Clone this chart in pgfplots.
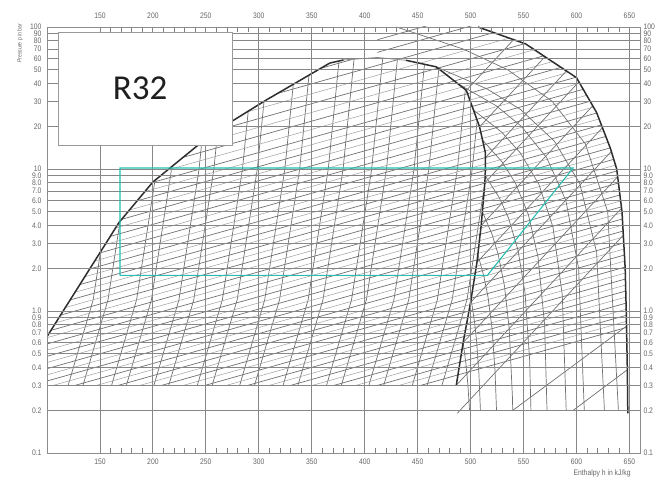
\documentclass[border=0pt]{standalone}
\usepackage{fontspec}
\usepackage{pgfplots}
\pgfplotsset{compat=1.18}
\newfontfamily\tk[FakeStretch=0.85]{Liberation Sans}
\newfontfamily\calfont{Carlito}
\definecolor{cyc}{RGB}{38,191,178}
\tikzset{
  ln/.style={black!56, line width=0.7pt},
  lt/.style={black!38, line width=0.5pt},
  thk/.style={black!82, line width=1.5pt},
  msk/.style={fill=white, draw=none},
}
\begin{document}
\begin{tikzpicture}
\begin{axis}[scale only axis, width=593pt, height=426pt, xmin=100, xmax=660,
  ymode=log, ymin=0.1, ymax=100, axis on top,
  xtick={150,200,250,300,350,400,450,500,550,600,650},
  xticklabels={150,200,250,300,350,400,450,500,550,600,650},
  minor x tick num=4,
  xmajorgrids, ymajorgrids,
  ytick={0.1,0.2,0.3,0.4,0.5,0.6,0.7,0.8,0.9,1,2,3,4,5,6,7,8,9,10,20,30,40,50,60,70,80,90,100},
  yticklabels={0.1,0.2,0.3,0.4,0.5,0.6,0.7,0.8,0.9,1.0,2.0,3.0,4.0,5.0,6.0,7.0,8.0,9.0,10,20,30,40,50,60,70,80,90,100},
  minor y tick num=0,
  ytick style={draw=none},
  major x tick style={draw=none},
  minor x tick style={black!50, line width=0.6pt},
  minor tick length=5pt,
  major grid style={black!47, line width=0.8pt},
  axis line style={black!45, line width=0.7pt},
  tick label style={font=\tk\fontsize{8}{9}\selectfont, text=black!60},
  yticklabel style={xshift=-2pt},
  xticklabel style={yshift=-2pt},
]
% --- two-phase steep lines
\addplot[ln] coordinates {(120,.3) (143.6,1.2) (162.6,10) (173,60)};
\addplot[ln] coordinates {(134,.3) (157.6,1.2) (176.6,10) (187,60)};
\addplot[ln] coordinates {(161,.3) (184.6,1.2) (203.6,10) (214,60)};
\addplot[ln] coordinates {(175,.3) (198.6,1.2) (217.6,10) (228,60)};
\addplot[ln] coordinates {(201,.3) (224.6,1.2) (243.6,10) (254,60)};
\addplot[ln] coordinates {(215,.3) (238.6,1.2) (257.6,10) (268,60)};
\addplot[ln] coordinates {(242,.3) (265.6,1.2) (284.6,10) (295,60)};
\addplot[ln] coordinates {(256,.3) (279.6,1.2) (298.6,10) (309,60)};
\addplot[ln] coordinates {(282,.3) (305.6,1.2) (324.6,10) (335,60)};
\addplot[ln] coordinates {(296,.3) (319.6,1.2) (338.6,10) (349,60)};
\addplot[ln] coordinates {(323,.3) (346.6,1.2) (365.6,10) (376,60)};
\addplot[ln] coordinates {(337,.3) (360.6,1.2) (379.6,10) (390,60)};
\addplot[ln] coordinates {(364,.3) (387.6,1.2) (406.6,10) (417,60)};
\addplot[ln] coordinates {(378,.3) (401.6,1.2) (420.6,10) (430.9,59.2)};
\addplot[ln] coordinates {(404,.3) (427.6,1.2) (446.6,10) (456.5,54.6)};
\addplot[ln] coordinates {(418,.3) (441.6,1.2) (460.6,10) (470,50.7)};
\addplot[ln] coordinates {(445,.3) (468.6,1.2) (487.6,10) (495.1,36.3)};
\addplot[ln] coordinates {(459,.3) (482.6,1.2) (501.6,10) (506.2,22.1)};
\addplot[ln] coordinates {(473,.3) (496.6,1.2) (513.5,8)};
% --- shallow rising lines
\addplot[ln] coordinates {(100,0.0543) (660,0.815)};
\addplot[ln] coordinates {(100,0.0662) (660,0.993)};
\addplot[ln] coordinates {(100,0.0807) (660,1.211)};
\addplot[ln] coordinates {(100,0.0984) (660,1.476)};
\addplot[ln] coordinates {(100,0.1197) (660,1.796)};
\addplot[ln] coordinates {(100,0.1455) (660,2.183)};
\addplot[ln] coordinates {(100,0.1774) (660,2.661)};
\addplot[ln] coordinates {(100,0.2163) (660,3.245)};
\addplot[ln] coordinates {(100,0.2634) (660,3.951)};
\addplot[ln] coordinates {(100,0.3214) (660,4.821)};
\addplot[ln] coordinates {(100,0.3926) (660,5.889)};
\addplot[ln] coordinates {(100,0.4797) (660,7.196)};
\addplot[ln] coordinates {(100,0.5861) (660,8.792)};
\addplot[ln] coordinates {(100,0.7178) (660,10.77)};
\addplot[ln] coordinates {(100,0.879) (660,13.19)};
\addplot[ln] coordinates {(100,1.076) (660,16.14)};
\addplot[ln] coordinates {(100,1.321) (660,19.82)};
\addplot[ln] coordinates {(100,1.626) (660,24.39)};
\addplot[ln] coordinates {(100,2.014) (660,30.21)};
\addplot[ln] coordinates {(100,2.512) (660,37.68)};
\addplot[ln] coordinates {(100,3.145) (660,47.18)};
\addplot[ln] coordinates {(100,3.954) (660,59.31)};
\addplot[ln] coordinates {(100,4.966) (660,74.49)};
\addplot[ln] coordinates {(100,6.486) (660,97.29)};
\addplot[ln] coordinates {(100,8.61) (660,129.2)};
\addplot[ln] coordinates {(100,11.9) (660,178)};
\addplot[ln] coordinates {(100,14.66) (660,220)};
\addplot[ln] coordinates {(100,18.0) (660,270)};
% --- lighter interleaved shallow lines
\addplot[lt] coordinates {(100,0.0600) (660,0.900)};
\addplot[lt] coordinates {(100,0.0731) (660,1.096)};
\addplot[lt] coordinates {(100,0.0891) (660,1.337)};
\addplot[lt] coordinates {(100,0.1085) (660,1.628)};
\addplot[lt] coordinates {(100,0.1320) (660,1.980)};
\addplot[lt] coordinates {(100,0.1607) (660,2.410)};
\addplot[lt] coordinates {(100,0.1959) (660,2.938)};
\addplot[lt] coordinates {(100,0.2387) (660,3.580)};
\addplot[lt] coordinates {(100,0.2910) (660,4.365)};
\addplot[lt] coordinates {(100,0.3552) (660,5.328)};
\addplot[lt] coordinates {(100,0.4340) (660,6.510)};
\addplot[lt] coordinates {(100,0.5302) (660,7.953)};
\addplot[lt] coordinates {(100,0.6486) (660,9.729)};
\addplot[lt] coordinates {(100,0.7943) (660,11.91)};
\addplot[lt] coordinates {(100,0.9725) (660,14.59)};
\addplot[lt] coordinates {(100,1.192) (660,17.88)};
\addplot[lt] coordinates {(100,1.466) (660,21.99)};
\addplot[lt] coordinates {(100,1.810) (660,27.15)};
\addplot[lt] coordinates {(100,2.249) (660,33.74)};
\addplot[lt] coordinates {(100,2.811) (660,42.16)};
\addplot[lt] coordinates {(100,3.526) (660,52.90)};
\addplot[lt] coordinates {(100,4.431) (660,66.47)};
\addplot[lt] coordinates {(100,5.675) (660,85.10)};
\addplot[lt] coordinates {(100,7.473) (660,112.1)};
\addplot[lt] coordinates {(100,10.12) (660,151.8)};
% --- mask outside the dome (left / top-left)
\addplot[msk] coordinates {(90,110) (90,0.66) (100,0.66) (168,4.2) (200,8.1) (256.6,17.9) (307,30.6) (367,55.7) (380,58.6) (412,61) (412,110)};
% --- superheated isotherms
\addplot[ln] coordinates {(493,0.6) (495.7,0.42) (497.5,0.3) (499,0.2)};
\addplot[ln] coordinates {(500.6,1.2) (503.7,0.84) (505.8,0.6) (507.9,0.36) (509.3,0.2)};
\addplot[ln] coordinates {(506.9,2.5) (512.6,1.75) (516.5,1.25) (520.3,0.75) (523.1,0.375) (524.5,0.2)};
\addplot[ln] coordinates {(511.1,5) (520.1,3.5) (526.1,2.5) (532,1.5) (536.5,0.75) (539.5,0.25) (539.8,0.2)};
\addplot[ln] coordinates {(513.7,9) (527,6.3) (535.9,4.5) (544.7,2.7) (551.4,1.35) (555.8,0.45) (557,0.2)};
\addplot[ln] coordinates {(511.3,16) (529.8,11.2) (542.2,8) (554.5,4.8) (563.7,2.4) (569.9,0.8) (572.2,0.2)};
\addplot[ln] coordinates {(502.8,26) (529.3,18.2) (546.9,13) (564.5,7.8) (577.8,3.9) (586.6,1.3) (590.3,0.2)};
\addplot[ln] coordinates {(487.7,40) (523.8,28) (547.9,20) (571.9,12) (590,6) (602,2) (607.4,0.2)};
\addplot[ln] coordinates {(467.6,52.4) (515.4,36.7) (547.3,26.2) (579.2,15.7) (603.1,7.9) (619,2.6) (626.4,0.2)};
\addplot[ln] coordinates {(430,100) (493,70) (535,50) (577,30) (608.5,15) (629.5,5) (639.6,0.2)};
% --- superheated isentropes
\addplot[ln] coordinates {(478,0.16) (660,4.57)};
\addplot[ln] coordinates {(486.5,0.3) (660,7.3)};
\addplot[ln] coordinates {(493,0.6) (660,13.0)};
\addplot[ln] coordinates {(500,1.15) (660,21.9)};
\addplot[ln] coordinates {(506,2.2) (660,37.6)};
\addplot[ln] coordinates {(510,4) (660,63.4)};
\addplot[ln] coordinates {(513.5,8) (660,118.9)};
\addplot[ln] coordinates {(514,12) (660,176)};
\addplot[ln] coordinates {(508.5,19.8) (660,322)};
\addplot[ln] coordinates {(496,35.8) (660,733)};
\addplot[ln] coordinates {(540,0.2) (660,0.92)};
\addplot[ln] coordinates {(597,0.2) (660,0.45)};
% --- masks right of boundary curve and bottom
\addplot[msk] coordinates {(507,110) (507,100) (552,76) (600,44) (619,25) (632,14) (638,10) (643,5) (646,2) (647,1) (648,0.4) (648.5,0.19) (670,0.19) (670,110)};
\addplot[msk] coordinates {(90,0.3) (486.5,0.3) (486.5,0.19) (670,0.19) (670,0.05) (90,0.05)};
% --- saturation dome and boundary curve
\addplot[black!45, line width=0.8pt] coordinates {(380,58.6) (412,61) (439,58.3)};
\addplot[thk] coordinates {(100,0.66) (168,4.2) (200,8.1) (256.6,17.9) (307,30.6) (367,55.7) (380,58.6)};
\addplot[thk] coordinates {(439,58.3) (467.6,52.4) (496,35.8) (508.5,19.8) (514,13) (514,10) (513.5,8) (510,4) (506,2.2) (500,1.15) (493,0.6) (486.5,0.3)};
\addplot[thk] coordinates {(507,100) (552,76) (600,44) (619,25) (632,14) (638,10) (643,5) (646,2) (647,1) (648,0.4) (648.5,0.19)};
\end{axis}
\begin{axis}[scale only axis, width=593pt, height=426pt, xmin=100, xmax=660,
  ymode=log, ymin=0.1, ymax=100, clip=false,
  axis x line*=top, axis y line*=right,
  axis line style={draw=none},
  tick style={draw=none},
  xtick={150,200,250,300,350,400,450,500,550,600,650},
  xticklabels={150,200,250,300,350,400,450,500,550,600,650},
  ytick={0.1,0.2,0.3,0.4,0.5,0.6,0.7,0.8,0.9,1,2,3,4,5,6,7,8,9,10,20,30,40,50,60,70,80,90,100},
  yticklabels={0.1,0.2,0.3,0.4,0.5,0.6,0.7,0.8,0.9,1.0,2.0,3.0,4.0,5.0,6.0,7.0,8.0,9.0,10,20,30,40,50,60,70,80,90,100},
  minor y tick num=0,
  tick label style={font=\tk\fontsize{8}{9}\selectfont, text=black!60},
  xticklabel style={yshift=5pt},
]
\addplot[fill=white, draw=black!40, line width=0.6pt] coordinates {(110.6,14.7) (275,14.7) (275,92) (110.6,92) (110.6,14.7)};
\node[font=\calfont\fontsize{35}{40}\selectfont, text=black!88] at (axis cs:188,37) {R32};
\addplot[cyc, line width=1.1pt] coordinates {(168.9,1.78) (515.8,1.78) (596.8,10.16) (168.9,10.16) (168.9,1.78)};
\node[rotate=90, font=\tk\fontsize{6}{7}\selectfont, text=black!60] at (axis description cs:-0.0455,0.962) {Pressure p in bar};
\node[font=\tk\fontsize{8}{9}\selectfont, text=black!60] at (axis description cs:0.936,-0.047) {Enthalpy h in kJ/kg};
\end{axis}
\pgfresetboundingbox
\path ([shift={(-47pt,-29pt)}]current axis.south west) rectangle ([shift={(16pt,27pt)}]current axis.north east);
\end{tikzpicture}
\end{document}
